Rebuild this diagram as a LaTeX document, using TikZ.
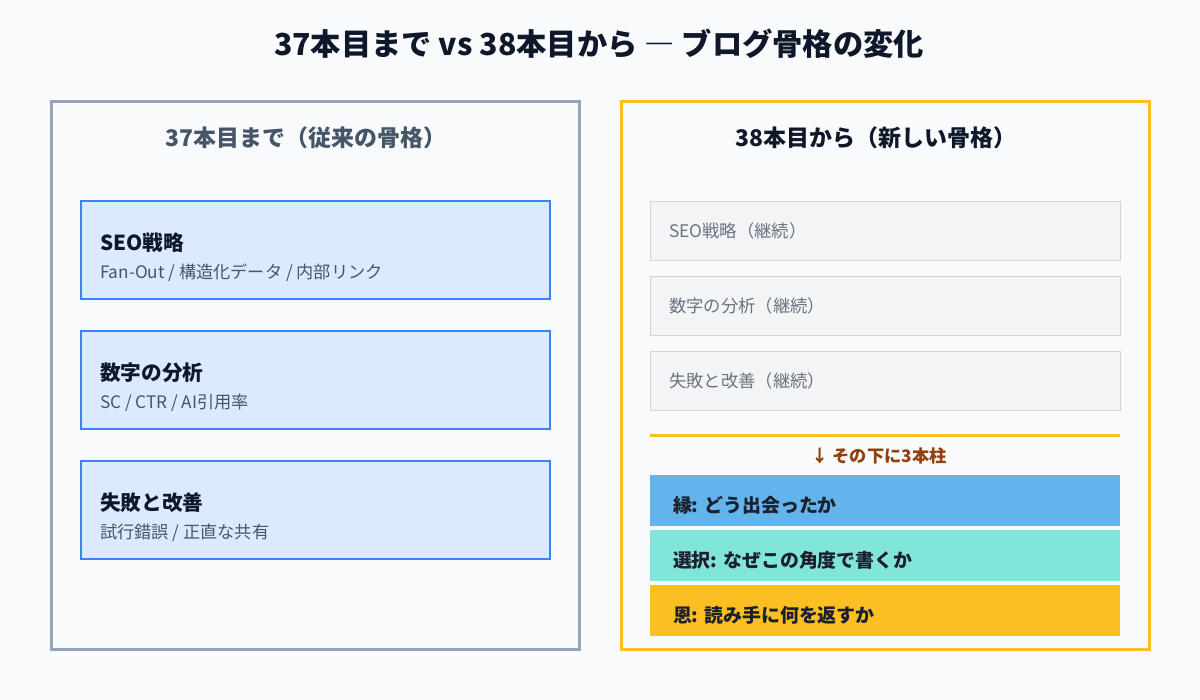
\documentclass[tikz,border=0pt]{standalone}
\usepackage{fontspec}
\setmainfont{Noto Sans CJK JP}
\usepackage{tikz}

\definecolor{pagebg}{HTML}{F8FAFC}
\definecolor{slateline}{HTML}{94A3B8}
\definecolor{slatetext}{HTML}{475569}
\definecolor{inktext}{HTML}{0F172A}
\definecolor{bluefill}{HTML}{DBEAFE}
\definecolor{blueline}{HTML}{3B82F6}
\definecolor{amber}{HTML}{FBBF24}
\definecolor{grayfill}{HTML}{F3F4F6}
\definecolor{grayline}{HTML}{D1D5DB}
\definecolor{graytext}{HTML}{6B7280}
\definecolor{brown}{HTML}{92400E}
\definecolor{pillarA}{HTML}{63B3ED}
\definecolor{pillarB}{HTML}{81E6D9}
\definecolor{pillartext}{HTML}{1A202C}

\begin{document}
\begin{tikzpicture}[x=0.75pt,y=-0.75pt,
    every node/.style={inner sep=0pt, outer sep=0pt},
    panel/.style={draw, line width=2.25pt, anchor=north west, minimum width=396pt, minimum height=411pt},
    oldbox/.style={draw=blueline, fill=bluefill, line width=1.5pt, anchor=north west, minimum width=351.75pt, minimum height=73.5pt},
    keptbox/.style={draw=grayline, fill=grayfill, line width=0.75pt, anchor=north west, minimum width=352.5pt, minimum height=44.25pt},
    pillar/.style={anchor=north west, minimum width=352.5pt, minimum height=38.25pt},
    heading/.style={font=\bfseries\fontsize{17.2pt}{20pt}\selectfont},
    boxtitle/.style={anchor=west, text=inktext, font=\bfseries\fontsize{15.5pt}{18pt}\selectfont},
    boxsub/.style={anchor=west, text=slatetext, font=\fontsize{12.9pt}{15pt}\selectfont},
    keptlabel/.style={anchor=west, text=graytext, font=\fontsize{13pt}{15pt}\selectfont},
    pillarlabel/.style={anchor=west, text=pillartext, font=\bfseries\fontsize{14.2pt}{17pt}\selectfont}]
            \fill[pagebg] (0,0) rectangle (1200,700);
            \node[font=\bfseries\fontsize{22.7pt}{26pt}\selectfont, text=inktext] (title) at (599,44) {37本目まで vs 38本目から ― ブログ骨格の変化};

            % left: old skeleton
            \node[panel, draw=slateline] (oldpanel) at (51,101) {};
            \node[heading, text=slatetext] (oldhead) at (306,138) {37本目まで（従来の骨格）};
            \node[oldbox] (seo) at (81,201) {};
            \node[boxtitle] (seotitle) at (100,243) {SEO戦略};
            \node[boxsub] (seosub) at (100,273) {Fan-Out / 構造化データ / 内部リンク};
            \node[oldbox] (num) at (81,331) {};
            \node[boxtitle] (numtitle) at (100,373) {数字の分析};
            \node[boxsub] (numsub) at (100,403) {SC / CTR / AI引用率};
            \node[oldbox] (fail) at (81,461) {};
            \node[boxtitle] (failtitle) at (100,503) {失敗と改善};
            \node[boxsub] (failsub) at (100,533) {試行錯誤 / 正直な共有};

            % right: new skeleton
            \node[panel, draw=amber] (newpanel) at (621,101) {};
            \node[heading, text=inktext] (newhead) at (876,138) {38本目から（新しい骨格）};
            \node[keptbox] (keptseo) at (650,201) {};
            \node[keptlabel] at (669,231) {SEO戦略（継続）};
            \node[keptbox] (keptnum) at (650,276) {};
            \node[keptlabel] at (669,306) {数字の分析（継続）};
            \node[keptbox] (keptfail) at (650,351) {};
            \node[keptlabel] at (669,381) {失敗と改善（継続）};
            \draw[amber, line width=2.25pt] (650,435) -- (1120,435);
            \node[font=\bfseries\fontsize{12.9pt}{15pt}\selectfont, text=brown] (note) at (879,456) {↓ その下に3本柱};
            \node[pillar, fill=pillarA] (en) at (650,475) {};
            \node[pillarlabel] at (673,505) {縁: どう出会ったか};
            \node[pillar, fill=pillarB] (sentaku) at (650,530) {};
            \node[pillarlabel] at (673,560) {選択: なぜこの角度で書くか};
            \node[pillar, fill=amber] (on) at (650,585) {};
            \node[pillarlabel] at (673,615) {恩: 読み手に何を返すか};
\end{tikzpicture}
\end{document}
